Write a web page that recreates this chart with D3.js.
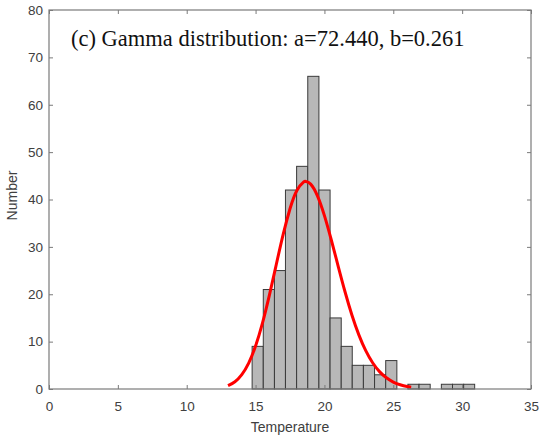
<!DOCTYPE html>
<html>
<head>
<meta charset="utf-8">
<script src="https://cdn.jsdelivr.net/npm/d3@7/dist/d3.min.js"></script>
<style>
  body { margin: 0; background: #fff; }
  svg { display: block; }
</style>
</head>
<body>
<div class="chart"></div>
<script>
// histogram bins (edges) and counts
var binEdges = [14.75, 15.56, 16.37, 17.17, 17.98, 18.79, 19.60, 20.41, 21.22, 22.02,
                22.83, 23.64, 24.45, 25.26, 26.06, 26.87, 27.68, 28.49, 29.30, 30.11, 30.91];
var counts = [9, 21, 25, 42, 47, 66, 42, 15, 9, 5, 5, 3, 6, 0, 1, 1, 0, 1, 1, 1];

// fitted curve
var fitX = [13, 13.5, 14, 14.5, 15, 15.5, 16, 16.5, 17, 17.5, 18, 18.5, 18.65, 19, 19.5,
            20, 20.5, 21, 21.5, 22, 22.5, 23, 23.5, 24, 24.5, 25, 25.5, 26, 26.3];
var fitY = [0.70, 1.53, 3.03, 5.47, 9.07, 13.90, 19.77, 26.23, 32.58, 38.05, 41.92, 43.70, 43.8, 43.25, 40.73,
            36.60, 31.45, 25.90, 20.48, 15.58, 11.43, 8.09, 5.54, 3.67, 2.36, 1.47, 0.89, 0.52, 0.38];

var xTicks = [0, 5, 10, 15, 20, 25, 30, 35];
var yTicks = [0, 10, 20, 30, 40, 50, 60, 70, 80];

var title = "(c) Gamma distribution: a=72.440, b=0.261";

var margin = {top: 10, right: 19, bottom: 58, left: 49},
	width = 550,
	height = 447,
	w = width - margin.left - margin.right,
	h = height - margin.top - margin.bottom;

var svg = d3.select(".chart").append("svg")
	.attr("width", width)
	.attr("height", height);

var g = svg.append("g")
	.attr("transform", "translate(" + margin.left + "," + margin.top + ")");

var x = d3.scaleLinear().domain([0, 35]).range([0, w]);
var y = d3.scaleLinear().domain([0, 80]).range([h, 0]);

var axisColor = "#7a7a7a",
	labelColor = "#404040";

// bars
var bins = counts.map(function(c, i) {
	return {x0: binEdges[i], x1: binEdges[i + 1], n: c};
}).filter(function(d) { return d.n > 0; });

g.selectAll(".bar")
	.data(bins)
	.enter().append("rect")
	.attr("class", "bar")
	.attr("x", function(d) { return x(d.x0); })
	.attr("y", function(d) { return y(d.n); })
	.attr("width", function(d) { return x(d.x1) - x(d.x0); })
	.attr("height", function(d) { return y(0) - y(d.n); })
	.attr("fill", "#b8b8b8")
	.attr("stroke", "#3a3a3a")
	.attr("stroke-width", 1);

// fitted curve
var line = d3.line()
	.x(function(d) { return x(d[0]); })
	.y(function(d) { return y(d[1]); })
	.curve(d3.curveNatural);

g.append("path")
	.datum(fitX.map(function(v, i) { return [v, fitY[i]]; }))
	.attr("fill", "none")
	.attr("stroke", "#ff0000")
	.attr("stroke-width", 3)
	.attr("d", line);

// axes, ticks pointing inward
function style(sel) {
	sel.select(".domain").remove();
	sel.selectAll("line").attr("stroke", axisColor);
	sel.selectAll("text")
		.attr("fill", labelColor)
		.style("font-family", "'Liberation Sans', Arial, sans-serif")
		.style("font-size", "13.5px");
}

g.append("g")
	.attr("transform", "translate(0," + h + ")")
	.call(d3.axisBottom(x).tickValues(xTicks).tickSizeInner(-4).tickSizeOuter(0).tickPadding(12))
	.call(style);

g.append("g")
	.call(d3.axisLeft(y).tickValues(yTicks).tickSizeInner(-4).tickSizeOuter(0).tickPadding(6))
	.call(style);

g.append("g")
	.call(d3.axisTop(x).tickValues(xTicks).tickSizeInner(-4).tickSizeOuter(0).tickFormat(""))
	.call(style);

g.append("g")
	.attr("transform", "translate(" + w + ",0)")
	.call(d3.axisRight(y).tickValues(yTicks).tickSizeInner(-4).tickSizeOuter(0).tickFormat(""))
	.call(style);

// frame
g.append("rect")
	.attr("width", w)
	.attr("height", h)
	.attr("fill", "none")
	.attr("stroke", axisColor)
	.attr("stroke-width", 1.2);

// labels
svg.append("text")
	.attr("x", margin.left + w / 2)
	.attr("y", 432)
	.attr("text-anchor", "middle")
	.attr("fill", labelColor)
	.style("font-family", "'Liberation Sans', Arial, sans-serif")
	.style("font-size", "14px")
	.text("Temperature");

svg.append("text")
	.attr("transform", "translate(17," + (margin.top + h / 2 - 4) + ") rotate(-90)")
	.attr("text-anchor", "middle")
	.attr("fill", labelColor)
	.style("font-family", "'Liberation Sans', Arial, sans-serif")
	.style("font-size", "14px")
	.text("Number");

svg.append("text")
	.attr("x", 71)
	.attr("y", 46)
	.attr("fill", "#111")
	.style("font-family", "'Liberation Serif', 'Times New Roman', serif")
	.style("font-size", "22.5px")
	.text(title);
</script>
</body>
</html>
